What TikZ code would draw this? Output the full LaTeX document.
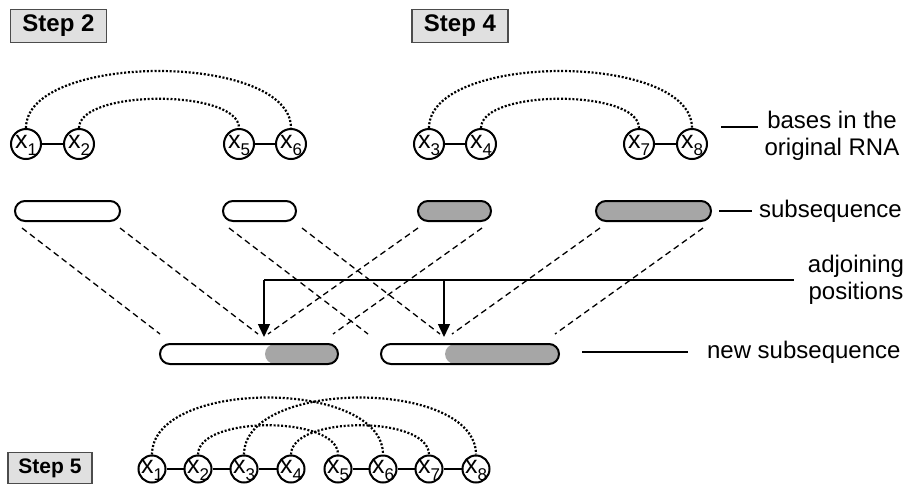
\documentclass[tikz,border=0pt]{standalone}
\usepackage{fontspec}
\setmainfont{Liberation Sans}
\usetikzlibrary{arrows.meta,calc}
\tikzset{px/.style={x={(0.5pt,0pt)},y={(0pt,-0.5pt)}}}
\tikzset{
  stepbox/.style={draw=black!70, fill=black!12, line width=0.65pt, font=\bfseries\fontsize{12}{14}\selectfont,
    minimum height=16.5pt, inner sep=0pt},
  base/.style={circle, draw, line width=1pt, minimum size=15pt, inner sep=0pt},
  bond/.style={line width=1pt},
  pair/.style={line width=1.1pt, dash pattern=on 1pt off 0.9pt},
  bar/.style={draw, fill=white, line width=1pt, rounded corners=5pt, minimum height=10pt, inner sep=0pt},
  newbar/.style={bar, path picture={\fill[black!35] ($(path picture bounding box.south west)!#1!(path picture bounding box.south east)$)
    rectangle (path picture bounding box.north east);}},
  guide/.style={line width=0.65pt, dash pattern=on 3pt off 2pt},
  lbl/.style={line width=0.6pt},
  adjarrow/.style={line width=0.7pt, -{Triangle[length=6.5pt,width=6pt]}, shorten >=3pt}
}
\newcommand{\xsub}[1]{\makebox[0pt]{\raisebox{-2pt}[0pt][0pt]{\fontsize{12.5}{12.5}\selectfont x\raisebox{-3.5pt}{\fontsize{8.5}{8.5}\selectfont #1}}}}

\begin{document}
\begin{tikzpicture}[px, font=\fontsize{12}{13.5}\selectfont]
	\useasboundingbox (0,0) rectangle (907,484);
	% les etapes
	\node[stepbox, minimum width=48pt] (st2) at (58.5,26) {Step 2};
	\node[stepbox, minimum width=48pt] (st4) at (460,26) {Step 4};
	\node[stepbox, minimum width=42pt, minimum height=15.5pt, font=\bfseries\fontsize{10.5}{12}\selectfont] (st5) at (50,468) {Step 5};
	% bases de l'ARN d'origine
	\foreach \i/\x in {1/26,2/79,5/239,6/291,3/429,4/481,7/639,8/692}
		\node[base] (b\i) at (\x,144) {\xsub{\i}};
	\draw[bond] (b1) -- (b2)  (b5) -- (b6)  (b3) -- (b4)  (b7) -- (b8);
	\draw[pair] (b1.north) .. controls +(0,-76) and +(0,-76) .. (b6.north);
	\draw[pair] (b2.north) .. controls +(0,-39) and +(0,-39) .. (b5.north);
	\draw[pair] (b3.north) .. controls +(0,-76) and +(0,-76) .. (b8.north);
	\draw[pair] (b4.north) .. controls +(0,-39) and +(0,-39) .. (b7.north);
	\node[align=center] (basl) at (832,136) {bases in the\\original RNA};
	\draw[lbl] ([shift={(13,-17)}]b8.east) -- ([shift={(0,-9)}]basl.west);
	% sous-sequences
	\node[bar, minimum width=52.5pt] (s1) at (67.5,211) {};
	\node[bar, minimum width=36.5pt] (s2) at (259.5,211) {};
	\node[bar, minimum width=36.5pt, fill=black!35] (s3) at (454.5,211) {};
	\node[bar, minimum width=57.5pt, fill=black!35] (s4) at (653.5,211) {};
	\node[anchor=west] (subl) at (752,211) {subsequence};
	\draw[lbl] ([xshift=3.5pt]s4.east) -- (subl.west);
	% nouvelles sous-sequences
	\node[newbar=0.59, minimum width=89pt] (nA) at (249,354) {};
	\node[newbar=0.36, minimum width=89pt] (nB) at (470,354) {};
	\node[anchor=west] (newl) at (700,352) {new subsequence};
	\draw[lbl] ([shift={(22,-2)}]nB.east) -- ([xshift=-6pt]newl.west);
	% positions de jonction
	\coordinate (jA) at (264,280);
	\coordinate (jB) at (444,280);
	\coordinate (tA) at (jA |- nA.north);
	\coordinate (tB) at (jB |- nB.north);
	% projections
	\draw[guide] ([shift={(8,6)}]s1.south west) -- ([shift={(1,-9)}]nA.north west);
	\draw[guide] ([shift={(-1,6)}]s1.south east) -- ([shift={(-6,-9)}]tA);
	\draw[guide] ([shift={(1,6)}]s3.south west) -- ([shift={(4,-9)}]tA);
	\draw[guide] ([shift={(-10,6)}]s3.south east) -- ([shift={(-6,-9)}]nA.north east);
	\draw[guide] ([shift={(7,6)}]s2.south west) -- ([shift={(-12,-9)}]nB.north west);
	\draw[guide] ([shift={(5,6)}]s2.south east) -- ([shift={(-4,-9)}]tB);
	\draw[guide] ([shift={(5,6)}]s4.south west) -- ([shift={(8,-9)}]tB);
	\draw[guide] ([shift={(-9,6)}]s4.south east) -- ([shift={(-5,-9)}]nB.north east);
	\node[align=center] (adjl) at (856,280) {adjoining\\positions};
	\draw[lbl] ([xshift=-3.5pt]adjl.west) -- (jA);
	\draw[adjarrow] (jA) -- (tA);
	\draw[adjarrow] (jB) -- (tB);
	% etape 5 : la sequence complete
	\foreach \i/\x in {1/152,2/198,3/244,4/291,5/338,6/383,7/429,8/476}
		\node[base, minimum size=13.5pt] (c\i) at (\x,469) {\xsub{\i}};
	\draw[bond] (c1) -- (c2) -- (c3) -- (c4)  (c5) -- (c6) -- (c7) -- (c8);
	\draw[pair] (c1.north) .. controls +(0,-76) and +(0,-76) .. (c6.north);
	\draw[pair] (c3.north) .. controls +(0,-76) and +(0,-76) .. (c8.north);
	\draw[pair] (c2.north) .. controls +(0,-39) and +(0,-39) .. (c5.north);
	\draw[pair] (c4.north) .. controls +(0,-39) and +(0,-39) .. (c7.north);
\end{tikzpicture}
\end{document}
